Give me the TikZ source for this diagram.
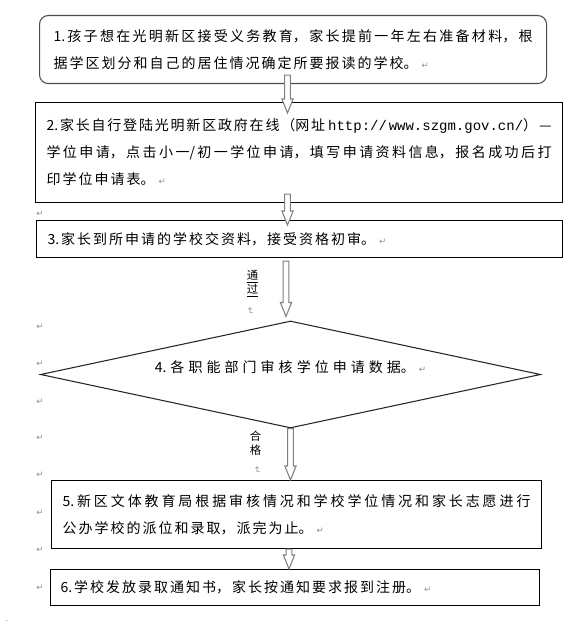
\documentclass[tikz,border=0pt]{standalone}
\usepackage{fontspec}
\setmainfont{Noto Sans CJK SC}
\newfontfamily\urlfont{Liberation Mono}
\newfontfamily\markfont{DejaVu Sans}
\usetikzlibrary{shapes.geometric, calc}
\XeTeXlinebreaklocale "zh"
\XeTeXlinebreakskip=1.5pt plus 3pt minus 1pt
\tolerance=9999
\hbadness=10000

% paragraph mark at the end of a text
\newcommand{\retmark}{\hspace{3pt}{\markfont\fontsize{6.5}{6}\selectfont\color{black!45}↵}}

% hollow block arrow: start point, tip point
\newcommand{\flowarrow}[2]{%
  \draw[flowline] let \p1=#1, \p2=#2 in
    (\x1-2.1pt,\y1) -- (\x1-2.1pt,\y2+10.5pt) -- (\x1-4.2pt,\y2+10.5pt) -- (\x1,\y2)
    -- (\x1+4.2pt,\y2+10.5pt) -- (\x1+2.1pt,\y2+10.5pt) -- (\x1+2.1pt,\y1) -- cycle;}

\begin{document}
\begin{tikzpicture}[
		x=0.75pt, y=-0.75pt,
		stepbox/.style={rectangle, draw=black, line width=0.8pt, anchor=north west, align=justify, inner ysep=0pt, font=\fontsize{10.5pt}{20.25pt}\selectfont},
		roundbox/.style={stepbox, draw=black!70, rounded corners=6.5pt},
		decision/.style={diamond, draw=black!85, line width=0.8pt, aspect=4.7, minimum width=375pt, minimum height=80.25pt, inner sep=0pt, text width=225pt, align=center, text depth=12.5pt, font=\fontsize{10.5pt}{20.25pt}\selectfont},
		flowline/.style={draw=black!50, line width=0.8pt, fill=white},
		vlabel/.style={align=center, inner sep=0pt, font=\fontsize{8.5pt}{10.5pt}\selectfont},
		marknode/.style={inner sep=0pt, text=black!45, font=\markfont\fontsize{6.5pt}{6pt}\selectfont}
		]
		\useasboundingbox (0,0) rectangle (579,624);

		\node[roundbox, text width=359.25pt, inner xsep=10.5pt, minimum height=51pt] (b1) at (39,15) {1.孩子想在光明新区接受义务教育，家长提前一年左右准备材料，根\linebreak 据学区划分和自己的居住情况确定所要报读的学校。\retmark};
		\node[stepbox, text width=378.75pt, inner xsep=8.25pt, minimum height=75pt] (b2) at (35,102) {2.家长自行登陆光明新区政府在线（网址 {\urlfont http://www.szgm.gov.cn/}）—\linebreak 学位申请，点击小一/初一学位申请，填写申请资料信息，报名成功后打\linebreak 印学位申请表。\retmark};
		\node[stepbox, text width=378pt, inner xsep=8.25pt, minimum height=27.75pt] (b3) at (36,220) {3.家长到所申请的学校交资料，接受资格初审。\retmark};
		\node[decision] (dec) at (290.5,374.5) {4.各职能部门审核学位申请数据。\retmark};
		\node[stepbox, text width=351pt, inner xsep=8.25pt, minimum height=51pt] (b5) at (51,480) {5.新区文体教育局根据审核情况和学校学位情况和家长志愿进行\linebreak 公办学校的派位和录取，派完为止。\retmark};
		\node[stepbox, text width=351.75pt, inner xsep=7.5pt, minimum height=27pt] (b6) at (50,569) {6.学校发放录取通知书，家长按通知要求报到注册。\retmark};

		% labels on the arrows
		\node[vlabel] (pass) at (252.5,284) {\underline{通}\\\underline{过}};
		\node[marknode, rotate=-90] (passmk) at (250,311) {↵};
		\node[vlabel] (ok) at (255.5,443.5) {合\\格};
		\node[marknode, rotate=-90] (okmk) at (257,470) {↵};

		% marks in the left margin
		\foreach \yy in {214,327,364,402,438,475,513,550,588}
		\node[marknode] (mk\yy) at (40,\yy) {↵};
		\node[marknode] (dot) at (7,621) {.};

		\flowarrow{($(287.5,0 |- b1.south)+(0,-9)$)}{($(287.5,0 |- b2.north)+(0,11)$)}
		\flowarrow{($(287.5,0 |- b2.south)+(0,-9)$)}{($(287.5,0 |- b3.north)+(0,5)$)}
		\flowarrow{($(286,0 |- b3.south)+(0,3)$)}{($(286,0 |- dec.north)+(0,-4)$)}
		\flowarrow{(dec.south)}{(dec.south |- b5.north)}
		\flowarrow{(289,0 |- b5.south)}{(289,0 |- b6.north)}
	\end{tikzpicture}
\end{document}
